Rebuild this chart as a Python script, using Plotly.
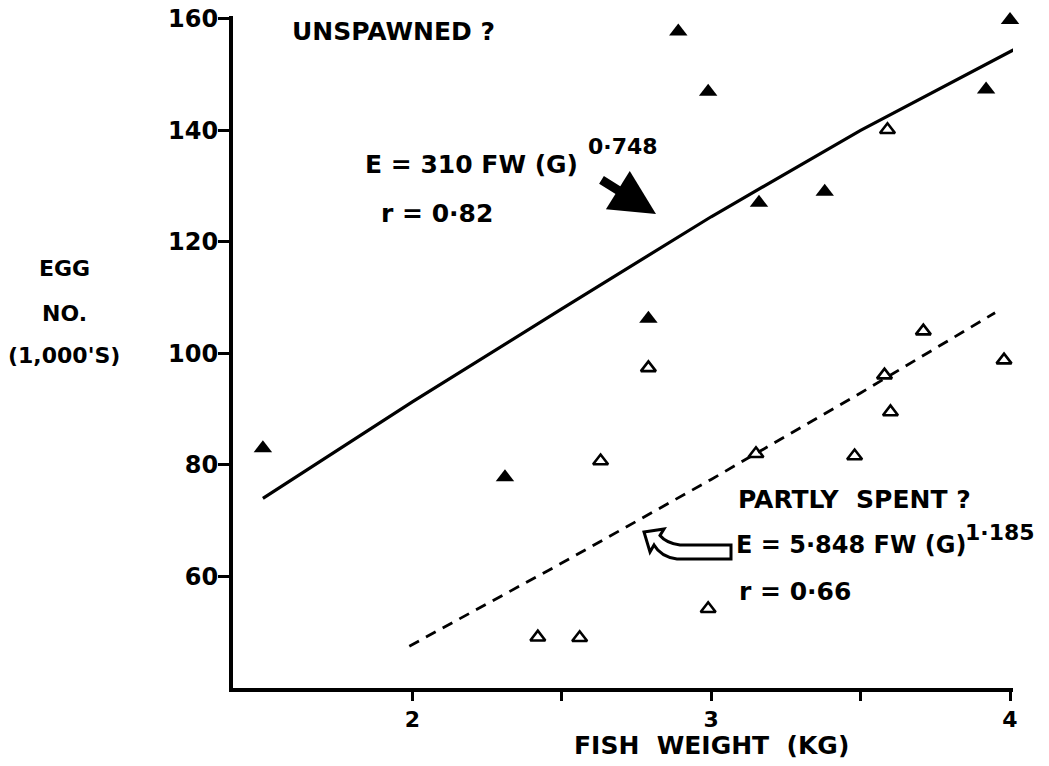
import plotly.graph_objects as go

# ---- data ----
unspawned_x = [1.50, 2.31, 2.79, 2.89, 2.99, 3.16, 3.38, 3.92, 4.00]
unspawned_y = [83.0, 77.8, 106.2, 157.7, 146.9, 127.0, 129.0, 147.3, 159.8]

spent_x = [2.42, 2.56, 2.63, 2.79, 2.99, 3.15, 3.48, 3.58, 3.59, 3.60, 3.71, 3.98]
spent_y = [49.1, 49.0, 80.7, 97.4, 54.2, 82.0, 81.6, 96.1, 140.1, 89.5, 104.0, 98.8]

fit_unspawned_x = [1.50, 2.0, 2.5, 3.0, 3.5, 4.05]
fit_unspawned_y = [74.0, 91.3, 108.0, 124.5, 140.0, 155.5]

fit_spent_x = [1.99, 2.5, 3.0, 3.5, 3.95]
fit_spent_y = [47.5, 62.4, 77.4, 92.9, 107.3]

x_ticks = [2, 2.5, 3, 3.5, 4]
x_ticktext = ["2", "", "3", "", "4"]
y_ticks = [60, 80, 100, 120, 140, 160]

FONT = "DejaVu Sans"
X_RANGE = [1.4, 4.01]
Y_RANGE = [40, 160.5]
W, H = 1049, 766
ML, MR, MT, MB = 233, 36, 16, 78
PW, PH = W - ML - MR, H - MT - MB


def px2x(px):
    return X_RANGE[0] + (px - ML) / PW * (X_RANGE[1] - X_RANGE[0])


def py2y(py):
    return Y_RANGE[0] + (H - MB - py) / PH * (Y_RANGE[1] - Y_RANGE[0])


def px2paper(px, py):
    return (px - ML) / PW, (H - MB - py) / PH


fig = go.Figure()

fig.add_trace(go.Scatter(x=fit_unspawned_x, y=fit_unspawned_y, mode="lines",
                         line=dict(color="black", width=3.2), hoverinfo="skip"))
fig.add_trace(go.Scatter(x=fit_spent_x, y=fit_spent_y, mode="lines",
                         line=dict(color="black", width=2.8, dash="11px,8px"), hoverinfo="skip"))
fig.add_trace(go.Scatter(x=unspawned_x, y=unspawned_y, mode="markers", cliponaxis=False,
                         marker=dict(symbol="triangle-up", size=16, color="black")))
fig.add_trace(go.Scatter(x=spent_x, y=spent_y, mode="markers", cliponaxis=False,
                         marker=dict(symbol="triangle-up-open", size=13, color="black",
                                     line=dict(width=2.6, color="black"))))


def txt(xp, yp, s, size=24, anchor="left"):
    fig.add_annotation(x=px2x(xp), y=py2y(yp), text=s, showarrow=False,
                       xanchor=anchor, yanchor="middle",
                       font=dict(family=FONT, size=size, color="black", weight="bold"))


txt(290, 31, "UNSPAWNED ?", size=25)
txt(363, 164, "E = 310 FW (G)", size=25)
txt(586, 146, "0·748", size=22)
txt(379, 213, "r = 0·82", size=25)
txt(736, 499, "PARTLY  SPENT ?", size=25)
txt(734, 545, "E = 5·848 FW (G)")
txt(963, 532, "1·185", size=22)
txt(737, 591, "r = 0·66", size=25)

# filled arrow
fig.add_annotation(x=px2x(656), y=py2y(214), ax=-56, ay=-35, axref="pixel", ayref="pixel",
                   showarrow=True, arrowhead=2, arrowsize=1.0, arrowwidth=9, arrowcolor="black",
                   text="")

# hollow curved arrow (decoration)
pts = "M {0},{1} L {2},{3} Q {4},{5} {6},{7} L {8},{9} L {10},{11} L {12},{13} L {14},{15} Q {16},{17} {18},{19} L {20},{21} Z"
raw = [(731, 545), (680, 545), (666, 543), (660, 535.5), (664, 529), (644, 532),
       (650, 552), (654, 545), (661, 557), (677, 559), (731, 559)]
vals = []
for a, b in raw:
    vals += [px2x(a), py2y(b)]
fig.add_shape(type="path", path=pts.format(*vals), xref="x", yref="y",
              line=dict(color="black", width=3), fillcolor="white")

# y-axis title lines
for yy, s in [(268, "EGG"), (313, "NO."), (355, "(1,000'S)")]:
    xx, yyp = px2paper(64, yy)
    fig.add_annotation(x=xx, y=yyp, xref="paper", yref="paper", text=s,
                       showarrow=False, xanchor="center", yanchor="middle",
                       font=dict(family=FONT, size=22, color="black", weight="bold"))

# x-axis title
xx, yyp = px2paper(711, 745)
fig.add_annotation(x=xx, y=yyp, xref="paper", yref="paper", text="FISH  WEIGHT  (KG)",
                   showarrow=False, xanchor="center", yanchor="middle",
                   font=dict(family=FONT, size=25, color="black", weight="bold"))

fig.update_layout(
    width=W, height=H,
    margin=dict(l=ML, r=MR, t=MT, b=MB, autoexpand=False),
    paper_bgcolor="white", plot_bgcolor="white",
    showlegend=False,
    font=dict(family=FONT, size=22, color="black"),
    xaxis=dict(range=X_RANGE, tickvals=x_ticks, ticktext=x_ticktext, showgrid=False,
               zeroline=False, showline=True, linecolor="black", linewidth=4,
               ticks="outside", ticklen=9, tickwidth=2.5, tickcolor="black", automargin=False,
               tickfont=dict(family=FONT, size=22, weight="bold")),
    yaxis=dict(range=Y_RANGE, tickvals=y_ticks, showgrid=False, zeroline=False,
               showline=True, linecolor="black", linewidth=4, automargin=False,
               ticks="outside", ticklen=11, tickwidth=2.5, tickcolor="black",
               ticklabelstandoff=-5,
               tickfont=dict(family=FONT, size=24, weight="bold")),
)

fig.write_html("out.html")
